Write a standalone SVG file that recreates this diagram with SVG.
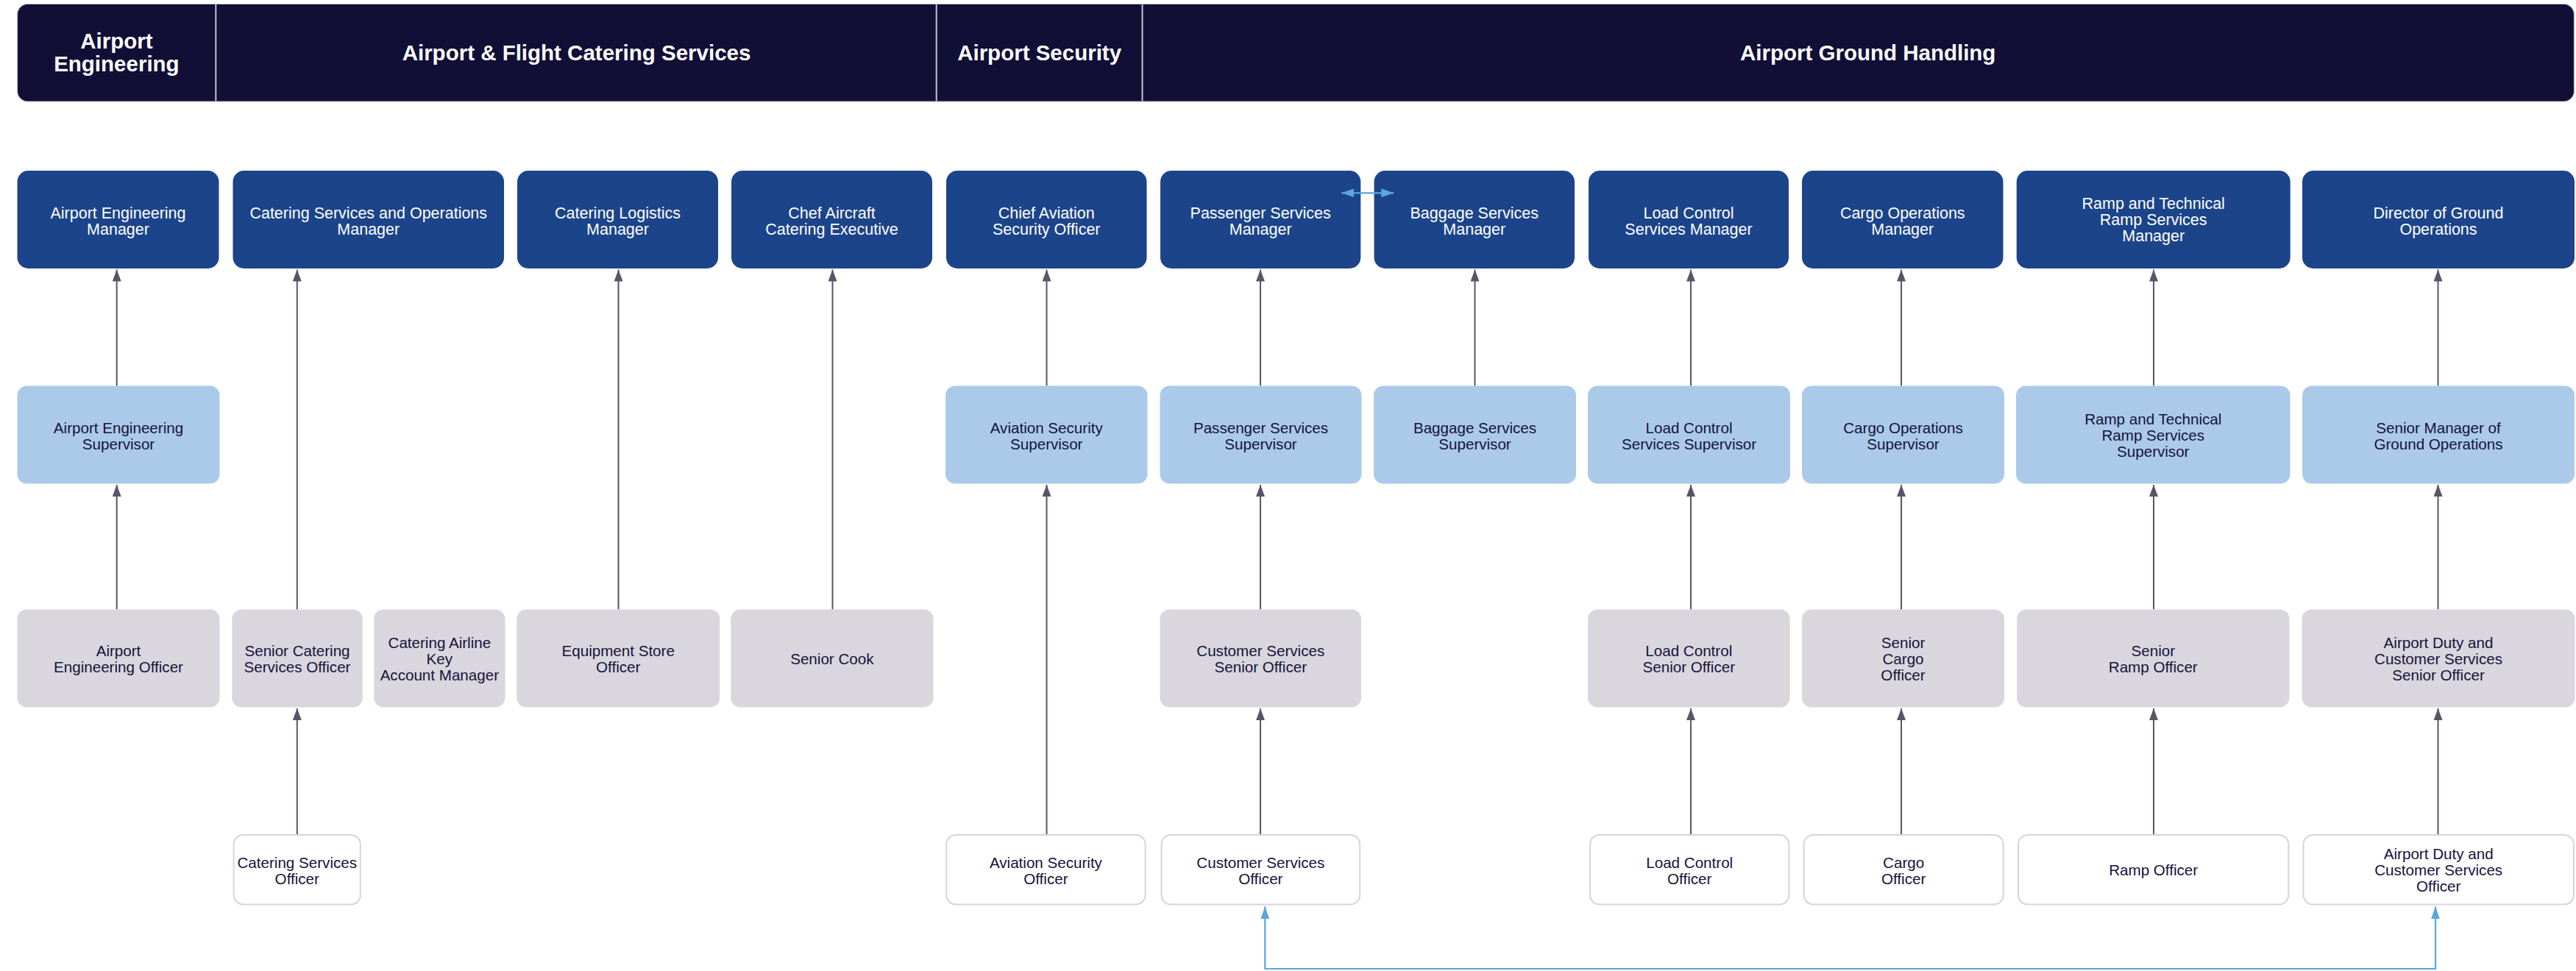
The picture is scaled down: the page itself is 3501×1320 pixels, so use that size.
<svg xmlns="http://www.w3.org/2000/svg" width="3501" height="1320" viewBox="0 0 3501 1320">
<style>
.hdr{fill:#110f36;stroke:#c3c1cd;stroke-width:1.2}
.div{stroke:#c3c1cd;stroke-width:2}
.ht{font-family:"Liberation Sans",Arial,sans-serif;font-weight:bold;font-size:29.5px;fill:#ffffff;text-anchor:middle}
.m{fill:#1c448a}
.s{fill:#abcae9}
.o{fill:#d9d6de}
.w{fill:#ffffff;stroke:#d6d4dc;stroke-width:2}
.tw{font-family:"Liberation Sans",Arial,sans-serif;font-size:21.5px;fill:#ffffff;text-anchor:middle}
.td{font-family:"Liberation Sans",Arial,sans-serif;font-size:20.6px;fill:#15133b;text-anchor:middle}
.ln{stroke:#575569;stroke-width:2;fill:none;marker-end:url(#ah)}
.bl{stroke:#5ba6dc;stroke-width:2.2;fill:none;marker-start:url(#bh);marker-end:url(#bh)}
</style>
<defs>
<marker id="ah" viewBox="0 0 16 12" refX="16" refY="6" markerWidth="16" markerHeight="12" markerUnits="userSpaceOnUse" orient="auto"><path d="M0,0 L16,6 L0,12 Z" fill="#575569"/></marker>
<marker id="bh" viewBox="0 0 17 12" refX="17" refY="6" markerWidth="17" markerHeight="12" markerUnits="userSpaceOnUse" orient="auto-start-reverse"><path d="M0,0 L17,6 L0,12 Z" fill="#5ba6dc"/></marker>
</defs>

<g id="header">
<rect class="hdr" x="23.5" y="5.5" width="3475" height="132.5" rx="14"/>
<line class="div" x1="293.3" y1="6" x2="293.3" y2="137.5"/>
<line class="div" x1="1272.7" y1="6" x2="1272.7" y2="137.5"/>
<line class="div" x1="1552.5" y1="6" x2="1552.5" y2="137.5"/>
<text class="ht" x="158.4"><tspan x="158.4" y="65.7">Airport</tspan><tspan x="158.4" y="97.3">Engineering</tspan></text>
<text class="ht" x="783.5" y="81.7">Airport &amp; Flight Catering Services</text>
<text class="ht" x="1412.6" y="81.7">Airport Security</text>
<text class="ht" x="2538.7" y="81.7">Airport Ground Handling</text>
</g>

<g id="connectors">
<path class="ln" d="M158.7,524.5 V366.5"/>
<path class="ln" d="M158.7,828.5 V659"/>
<path class="ln" d="M403.8,828.5 V366.5"/>
<path class="ln" d="M403.8,1134 V963"/>
<path class="ln" d="M840.5,828.5 V366.5"/>
<path class="ln" d="M1131.5,828.5 V366.5"/>
<path class="ln" d="M1422.5,524.5 V366.5"/>
<path class="ln" d="M1422.5,1134 V659"/>
<path class="ln" d="M1713,524.5 V366.5"/>
<path class="ln" d="M1713,828.5 V659"/>
<path class="ln" d="M1713,1134 V963"/>
<path class="ln" d="M2004.5,524.5 V366.5"/>
<path class="ln" d="M2298,524.5 V366.5"/>
<path class="ln" d="M2298,828.5 V659"/>
<path class="ln" d="M2298,1134 V963"/>
<path class="ln" d="M2584,524.5 V366.5"/>
<path class="ln" d="M2584,828.5 V659"/>
<path class="ln" d="M2584,1134 V963"/>
<path class="ln" d="M2927,524.5 V366.5"/>
<path class="ln" d="M2927,828.5 V659"/>
<path class="ln" d="M2927,1134 V963"/>
<path class="ln" d="M3313.5,524.5 V366.5"/>
<path class="ln" d="M3313.5,828.5 V659"/>
<path class="ln" d="M3313.5,1134 V963"/>
<path class="bl" d="M1719.3,1232.3 V1317 H3310 V1232.3"/>
</g>

<g id="n-airport-eng-mgr"><rect class="m" x="23.5" y="232" width="274" height="133" rx="15"/><text class="tw"><tspan x="160.5" y="297">Airport Engineering</tspan><tspan x="160.5" y="319">Manager</tspan></text></g>
<g id="n-catering-ops-mgr"><rect class="m" x="316.5" y="232" width="368.5" height="133" rx="15"/><text class="tw"><tspan x="500.75" y="297">Catering Services and Operations</tspan><tspan x="500.75" y="319">Manager</tspan></text></g>
<g id="n-catering-log-mgr"><rect class="m" x="703" y="232" width="273" height="133" rx="15"/><text class="tw"><tspan x="839.5" y="297">Catering Logistics</tspan><tspan x="839.5" y="319">Manager</tspan></text></g>
<g id="n-chef"><rect class="m" x="994" y="232" width="273" height="133" rx="15"/><text class="tw"><tspan x="1130.5" y="297">Chef Aircraft</tspan><tspan x="1130.5" y="319">Catering Executive</tspan></text></g>
<g id="n-chief-avsec"><rect class="m" x="1286" y="232" width="272.5" height="133" rx="15"/><text class="tw"><tspan x="1422.25" y="297">Chief Aviation</tspan><tspan x="1422.25" y="319">Security Officer</tspan></text></g>
<g id="n-pax-mgr"><rect class="m" x="1577" y="232" width="272.3" height="133" rx="15"/><text class="tw"><tspan x="1713.15" y="297">Passenger Services</tspan><tspan x="1713.15" y="319">Manager</tspan></text></g>
<g id="n-bag-mgr"><rect class="m" x="1867.5" y="232" width="272.5" height="133" rx="15"/><text class="tw"><tspan x="2003.75" y="297">Baggage Services</tspan><tspan x="2003.75" y="319">Manager</tspan></text></g>
<g id="n-load-mgr"><rect class="m" x="2159" y="232" width="272" height="133" rx="15"/><text class="tw"><tspan x="2295" y="297">Load Control</tspan><tspan x="2295" y="319">Services Manager</tspan></text></g>
<g id="n-cargo-mgr"><rect class="m" x="2449" y="232" width="273.5" height="133" rx="15"/><text class="tw"><tspan x="2585.75" y="297">Cargo Operations</tspan><tspan x="2585.75" y="319">Manager</tspan></text></g>
<g id="n-ramp-mgr"><rect class="m" x="2740.7" y="232" width="372" height="133" rx="15"/><text class="tw"><tspan x="2926.7" y="284.3">Ramp and Technical</tspan><tspan x="2926.7" y="306.3">Ramp Services</tspan><tspan x="2926.7" y="328.3">Manager</tspan></text></g>
<g id="n-dir-ground"><rect class="m" x="3129" y="232" width="370" height="133" rx="15"/><text class="tw"><tspan x="3314" y="297">Director of Ground</tspan><tspan x="3314" y="319">Operations</tspan></text></g>

<g id="n-airport-eng-sup"><rect class="s" x="23.5" y="524.5" width="275" height="133" rx="13"/><text class="td"><tspan x="161" y="588.5">Airport Engineering</tspan><tspan x="161" y="610.5">Supervisor</tspan></text></g>
<g id="n-avsec-sup"><rect class="s" x="1285" y="524.5" width="274.5" height="133" rx="13"/><text class="td"><tspan x="1422.25" y="588.5">Aviation Security</tspan><tspan x="1422.25" y="610.5">Supervisor</tspan></text></g>
<g id="n-pax-sup"><rect class="s" x="1576.5" y="524.5" width="274" height="133" rx="13"/><text class="td"><tspan x="1713.5" y="588.5">Passenger Services</tspan><tspan x="1713.5" y="610.5">Supervisor</tspan></text></g>
<g id="n-bag-sup"><rect class="s" x="1867" y="524.5" width="275" height="133" rx="13"/><text class="td"><tspan x="2004.5" y="588.5">Baggage Services</tspan><tspan x="2004.5" y="610.5">Supervisor</tspan></text></g>
<g id="n-load-sup"><rect class="s" x="2158" y="524.5" width="275" height="133" rx="13"/><text class="td"><tspan x="2295.5" y="588.5">Load Control</tspan><tspan x="2295.5" y="610.5">Services Supervisor</tspan></text></g>
<g id="n-cargo-sup"><rect class="s" x="2449" y="524.5" width="275" height="133" rx="13"/><text class="td"><tspan x="2586.5" y="588.5">Cargo Operations</tspan><tspan x="2586.5" y="610.5">Supervisor</tspan></text></g>
<g id="n-ramp-sup"><rect class="s" x="2740" y="524.5" width="372.5" height="133" rx="13"/><text class="td"><tspan x="2926.25" y="577">Ramp and Technical</tspan><tspan x="2926.25" y="599">Ramp Services</tspan><tspan x="2926.25" y="621">Supervisor</tspan></text></g>
<g id="n-snr-mgr-ground"><rect class="s" x="3129" y="524.5" width="370" height="133" rx="13"/><text class="td"><tspan x="3314" y="588.5">Senior Manager of</tspan><tspan x="3314" y="610.5">Ground Operations</tspan></text></g>

<g id="n-airport-eng-off"><rect class="o" x="23.5" y="828.5" width="275" height="133" rx="13"/><text class="td"><tspan x="161" y="892">Airport</tspan><tspan x="161" y="914">Engineering Officer</tspan></text></g>
<g id="n-snr-catering-off"><rect class="o" x="315.3" y="828.5" width="177.4" height="133" rx="13"/><text class="td"><tspan x="404" y="892">Senior Catering</tspan><tspan x="404" y="914">Services Officer</tspan></text></g>
<g id="n-catering-key-acct"><rect class="o" x="508.2" y="828.5" width="178.3" height="133" rx="13"/><text class="td"><tspan x="597.35" y="880.5">Catering Airline</tspan><tspan x="597.35" y="902.5">Key</tspan><tspan x="597.35" y="924.5">Account Manager</tspan></text></g>
<g id="n-equip-store"><rect class="o" x="702.2" y="828.5" width="276" height="133" rx="13"/><text class="td"><tspan x="840.2" y="892">Equipment Store</tspan><tspan x="840.2" y="914">Officer</tspan></text></g>
<g id="n-senior-cook"><rect class="o" x="993.2" y="828.5" width="275.3" height="133" rx="13"/><text class="td" x="1130.85" y="902.5">Senior Cook</text></g>
<g id="n-cust-snr-off"><rect class="o" x="1576.5" y="828.5" width="273.5" height="133" rx="13"/><text class="td"><tspan x="1713.25" y="892">Customer Services</tspan><tspan x="1713.25" y="914">Senior Officer</tspan></text></g>
<g id="n-load-snr-off"><rect class="o" x="2158" y="828.5" width="274.5" height="133" rx="13"/><text class="td"><tspan x="2295.25" y="892">Load Control</tspan><tspan x="2295.25" y="914">Senior Officer</tspan></text></g>
<g id="n-snr-cargo-off"><rect class="o" x="2449" y="828.5" width="275" height="133" rx="13"/><text class="td"><tspan x="2586.5" y="880.5">Senior</tspan><tspan x="2586.5" y="902.5">Cargo</tspan><tspan x="2586.5" y="924.5">Officer</tspan></text></g>
<g id="n-snr-ramp-off"><rect class="o" x="2741" y="828.5" width="370.5" height="133" rx="13"/><text class="td"><tspan x="2926.25" y="892">Senior</tspan><tspan x="2926.25" y="914">Ramp Officer</tspan></text></g>
<g id="n-duty-snr-off"><rect class="o" x="3128.5" y="828.5" width="371" height="133" rx="13"/><text class="td"><tspan x="3314" y="880.5">Airport Duty and</tspan><tspan x="3314" y="902.5">Customer Services</tspan><tspan x="3314" y="924.5">Senior Officer</tspan></text></g>

<g id="n-catering-off"><rect class="w" x="317.7" y="1135" width="172.1" height="94.5" rx="13"/><text class="td"><tspan x="403.75" y="1179.5">Catering Services</tspan><tspan x="403.75" y="1201.5">Officer</tspan></text></g>
<g id="n-avsec-off"><rect class="w" x="1286.2" y="1135" width="270.4" height="94.5" rx="13"/><text class="td"><tspan x="1421.4" y="1179.5">Aviation Security</tspan><tspan x="1421.4" y="1201.5">Officer</tspan></text></g>
<g id="n-cust-off"><rect class="w" x="1578.5" y="1135" width="269.7" height="94.5" rx="13"/><text class="td"><tspan x="1713.35" y="1179.5">Customer Services</tspan><tspan x="1713.35" y="1201.5">Officer</tspan></text></g>
<g id="n-load-off"><rect class="w" x="2161" y="1135" width="270.4" height="94.5" rx="13"/><text class="td"><tspan x="2296.2" y="1179.5">Load Control</tspan><tspan x="2296.2" y="1201.5">Officer</tspan></text></g>
<g id="n-cargo-off"><rect class="w" x="2451.6" y="1135" width="271.1" height="94.5" rx="13"/><text class="td"><tspan x="2587.15" y="1179.5">Cargo</tspan><tspan x="2587.15" y="1201.5">Officer</tspan></text></g>
<g id="n-ramp-off"><rect class="w" x="2743" y="1135" width="367.3" height="94.5" rx="13"/><text class="td" x="2926.65" y="1190">Ramp Officer</text></g>
<g id="n-duty-off"><rect class="w" x="3130.5" y="1135" width="367.4" height="94.5" rx="13"/><text class="td"><tspan x="3314.2" y="1168">Airport Duty and</tspan><tspan x="3314.2" y="1190">Customer Services</tspan><tspan x="3314.2" y="1212">Officer</tspan></text></g>

<g id="connector-pax-bag"><path class="bl" d="M1823.3,262.3 H1894.3"/></g>
</svg>
